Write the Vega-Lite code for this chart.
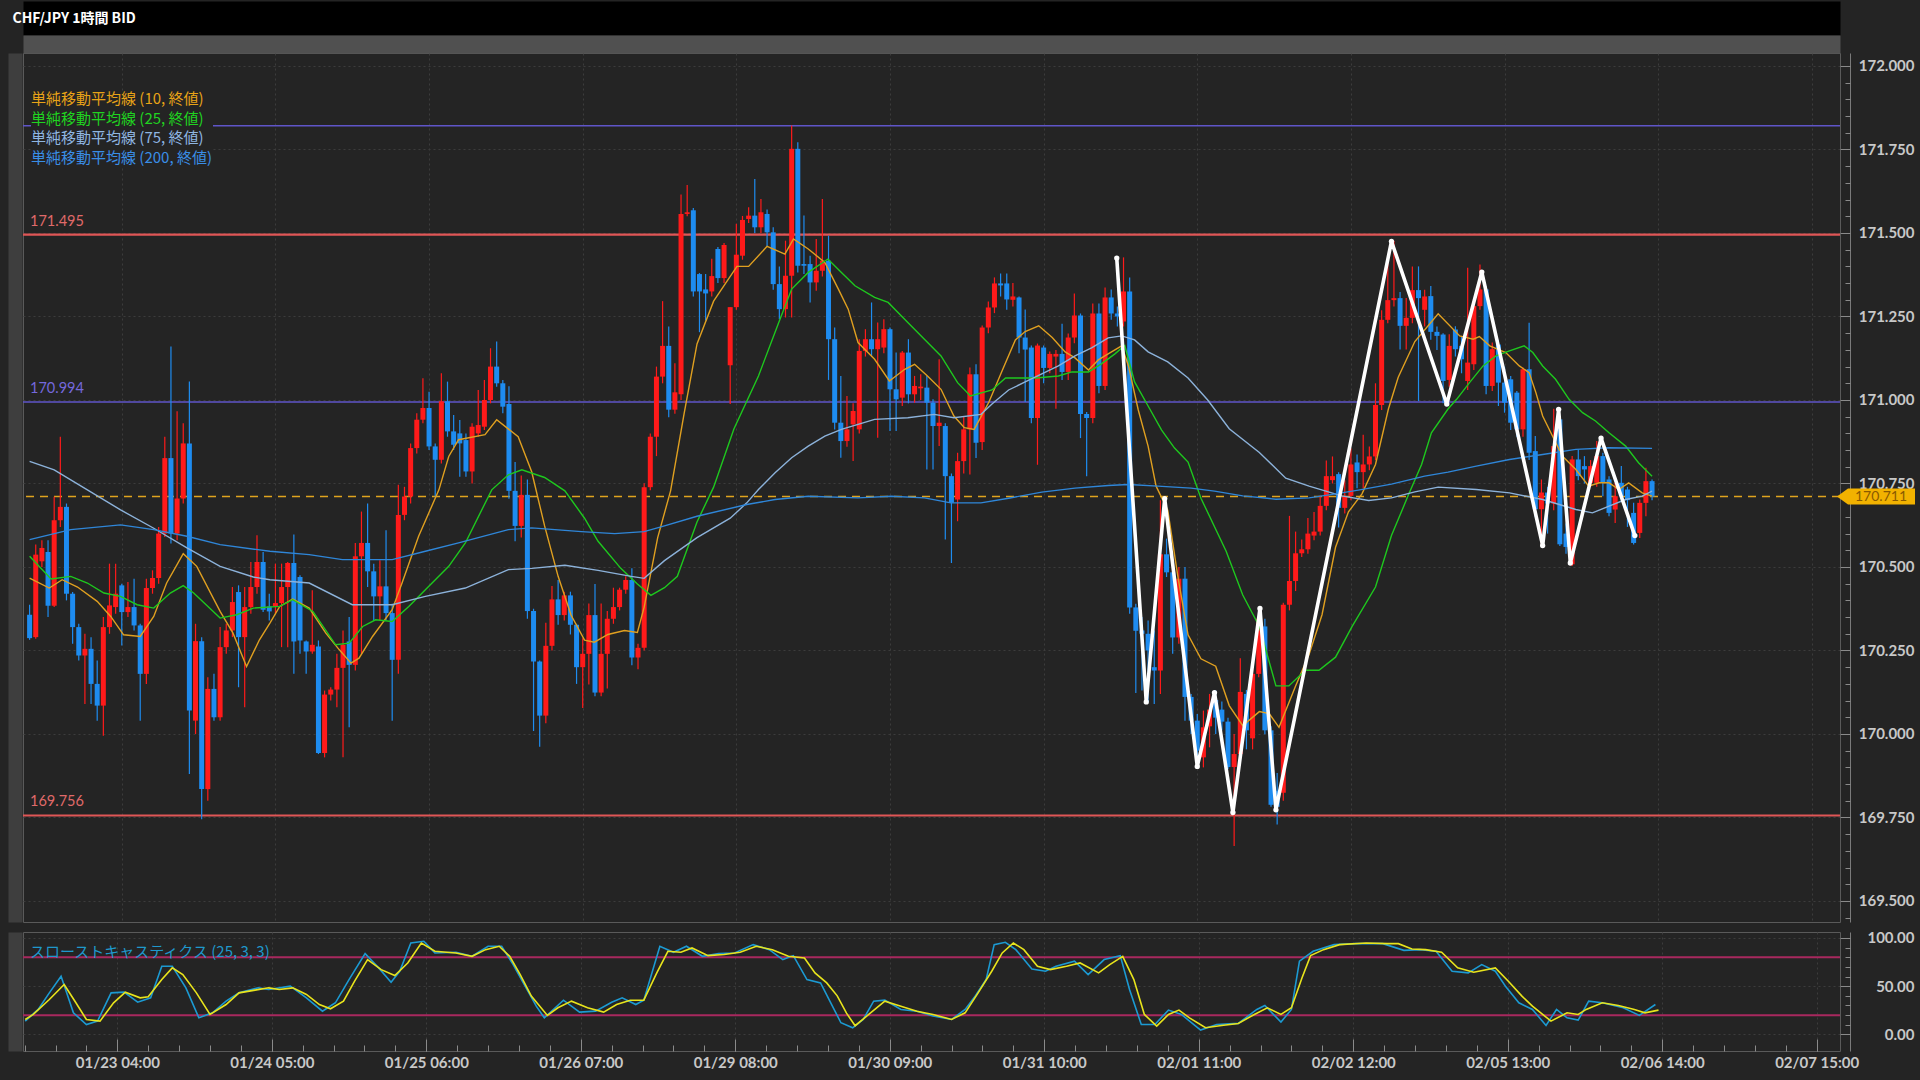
{
"$schema":"https://vega.github.io/schema/vega-lite/v6.json",
"background":"#242424",
"padding":0,
"title":{"text":"CHF/JPY 1時間 BID","anchor":"start","offset":-17,"baseline":"middle","dx":12,"dy":15,"font":"Noto Sans CJK JP","fontSize":14,"fontWeight":"bold","color":"#ffffff","zindex":1},
"config":{"view":{"stroke":null},"font":"Lato"},
"datasets":{
"candles":[
{"k":0,"o":170.357,"h":170.387,"l":170.282,"c":170.287},{"k":1,"o":170.29,"h":170.567,"l":170.285,"c":170.537},{"k":2,"o":170.517,"h":170.58,"l":170.5,"c":170.557},{"k":3,"o":170.545,"h":170.58,"l":170.35,"c":170.384},{"k":4,"o":170.384,"h":170.71,"l":170.38,"c":170.64},{"k":5,"o":170.64,"h":170.89,"l":170.62,"c":170.68},{"k":6,"o":170.68,"h":170.69,"l":170.4,"c":170.42},{"k":7,"o":170.42,"h":170.425,"l":170.27,"c":170.32},{"k":8,"o":170.32,"h":170.33,"l":170.22,"c":170.235},{"k":9,"o":170.235,"h":170.3,"l":170.09,"c":170.255},
{"k":10,"o":170.255,"h":170.29,"l":170.09,"c":170.15},{"k":11,"o":170.15,"h":170.22,"l":170.04,"c":170.085},{"k":12,"o":170.085,"h":170.35,"l":169.995,"c":170.32},{"k":13,"o":170.32,"h":170.51,"l":170.3,"c":170.385},{"k":14,"o":170.38,"h":170.51,"l":170.36,"c":170.42},{"k":15,"o":170.445,"h":170.45,"l":170.265,"c":170.365},{"k":16,"o":170.365,"h":170.455,"l":170.35,"c":170.38},{"k":17,"o":170.38,"h":170.465,"l":170.31,"c":170.325},{"k":18,"o":170.325,"h":170.33,"l":170.04,"c":170.18},{"k":19,"o":170.18,"h":170.465,"l":170.15,"c":170.437},
{"k":20,"o":170.437,"h":170.49,"l":170.42,"c":170.467},{"k":21,"o":170.467,"h":170.62,"l":170.45,"c":170.6},{"k":22,"o":170.6,"h":170.89,"l":170.59,"c":170.826},{"k":23,"o":170.826,"h":171.16,"l":170.57,"c":170.6},{"k":24,"o":170.6,"h":170.966,"l":170.58,"c":170.705},{"k":25,"o":170.705,"h":170.93,"l":170.69,"c":170.87},{"k":26,"o":170.87,"h":171.055,"l":169.88,"c":170.07},{"k":27,"o":170.04,"h":170.33,"l":170.0,"c":170.278},{"k":28,"o":170.278,"h":170.29,"l":169.745,"c":169.835},{"k":29,"o":169.835,"h":170.17,"l":169.8,"c":170.135},
{"k":30,"o":170.135,"h":170.18,"l":170.04,"c":170.05},{"k":31,"o":170.05,"h":170.32,"l":170.04,"c":170.26},{"k":32,"o":170.26,"h":170.33,"l":170.24,"c":170.31},{"k":33,"o":170.31,"h":170.44,"l":170.29,"c":170.395},{"k":34,"o":170.425,"h":170.445,"l":170.14,"c":170.29},{"k":35,"o":170.29,"h":170.44,"l":170.08,"c":170.38},{"k":36,"o":170.38,"h":170.515,"l":170.36,"c":170.44},{"k":37,"o":170.44,"h":170.595,"l":170.42,"c":170.515},{"k":38,"o":170.515,"h":170.545,"l":170.365,"c":170.372},{"k":39,"o":170.382,"h":170.42,"l":170.34,"c":170.367},
{"k":40,"o":170.382,"h":170.51,"l":170.36,"c":170.392},{"k":41,"o":170.392,"h":170.51,"l":170.26,"c":170.44},{"k":42,"o":170.44,"h":170.515,"l":170.26,"c":170.512},{"k":43,"o":170.512,"h":170.597,"l":170.18,"c":170.277},{"k":44,"o":170.47,"h":170.475,"l":170.24,"c":170.28},{"k":45,"o":170.277,"h":170.28,"l":170.18,"c":170.247},{"k":46,"o":170.247,"h":170.43,"l":170.24,"c":170.267},{"k":47,"o":170.262,"h":170.28,"l":169.94,"c":169.943},{"k":48,"o":169.943,"h":170.13,"l":169.93,"c":170.118},{"k":49,"o":170.118,"h":170.14,"l":170.1,"c":170.133},
{"k":50,"o":170.133,"h":170.24,"l":170.08,"c":170.198},{"k":51,"o":170.198,"h":170.31,"l":169.93,"c":170.267},{"k":52,"o":170.277,"h":170.35,"l":170.02,"c":170.207},{"k":53,"o":170.207,"h":170.572,"l":170.19,"c":170.532},{"k":54,"o":170.532,"h":170.666,"l":170.24,"c":170.572},{"k":55,"o":170.572,"h":170.69,"l":170.44,"c":170.487},{"k":56,"o":170.487,"h":170.51,"l":170.34,"c":170.412},{"k":57,"o":170.412,"h":170.52,"l":170.34,"c":170.442},{"k":58,"o":170.442,"h":170.61,"l":170.34,"c":170.362},{"k":59,"o":170.362,"h":170.39,"l":170.04,"c":170.222},
{"k":60,"o":170.222,"h":170.746,"l":170.18,"c":170.656},{"k":61,"o":170.656,"h":170.74,"l":170.64,"c":170.711},{"k":62,"o":170.711,"h":170.87,"l":170.69,"c":170.856},{"k":63,"o":170.856,"h":170.96,"l":170.84,"c":170.941},{"k":64,"o":170.941,"h":171.065,"l":170.93,"c":170.976},{"k":65,"o":170.976,"h":171.025,"l":170.85,"c":170.861},{"k":66,"o":170.861,"h":170.87,"l":170.71,"c":170.821},{"k":67,"o":170.821,"h":171.08,"l":170.81,"c":170.996},{"k":68,"o":170.996,"h":171.055,"l":170.89,"c":170.906},{"k":69,"o":170.906,"h":170.955,"l":170.85,"c":170.866},
{"k":70,"o":170.9,"h":170.94,"l":170.77,"c":170.87},{"k":71,"o":170.88,"h":170.9,"l":170.77,"c":170.786},{"k":72,"o":170.786,"h":170.93,"l":170.75,"c":170.92},{"k":73,"o":170.9,"h":171.03,"l":170.89,"c":170.925},{"k":74,"o":170.92,"h":171.06,"l":170.91,"c":171.0},{"k":75,"o":171.0,"h":171.155,"l":170.99,"c":171.1},{"k":76,"o":171.1,"h":171.175,"l":171.04,"c":171.05},{"k":77,"o":171.05,"h":171.06,"l":170.96,"c":170.98},{"k":78,"o":170.988,"h":171.041,"l":170.704,"c":170.728},{"k":79,"o":170.728,"h":170.814,"l":170.577,"c":170.623},
{"k":80,"o":170.623,"h":170.774,"l":170.588,"c":170.716},{"k":81,"o":170.716,"h":170.762,"l":170.345,"c":170.368},{"k":82,"o":170.368,"h":170.375,"l":170.009,"c":170.217},{"k":83,"o":170.217,"h":170.22,"l":169.962,"c":170.055},{"k":84,"o":170.055,"h":170.333,"l":170.032,"c":170.264},{"k":85,"o":170.264,"h":170.443,"l":170.25,"c":170.403},{"k":86,"o":170.403,"h":170.461,"l":170.327,"c":170.356},{"k":87,"o":170.356,"h":170.426,"l":170.34,"c":170.415},{"k":88,"o":170.415,"h":170.426,"l":170.298,"c":170.327},{"k":89,"o":170.327,"h":170.33,"l":170.15,"c":170.2},
{"k":90,"o":170.2,"h":170.287,"l":170.078,"c":170.24},{"k":91,"o":170.24,"h":170.391,"l":170.148,"c":170.356},{"k":92,"o":170.356,"h":170.449,"l":170.113,"c":170.124},{"k":93,"o":170.124,"h":170.391,"l":170.113,"c":170.24},{"k":94,"o":170.24,"h":170.368,"l":170.136,"c":170.345},{"k":95,"o":170.345,"h":170.438,"l":170.33,"c":170.38},{"k":96,"o":170.38,"h":170.438,"l":170.37,"c":170.432},{"k":97,"o":170.432,"h":170.472,"l":170.42,"c":170.461},{"k":98,"o":170.461,"h":170.496,"l":170.206,"c":170.229},{"k":99,"o":170.229,"h":170.27,"l":170.194,"c":170.258},
{"k":100,"o":170.258,"h":170.751,"l":170.25,"c":170.739},{"k":101,"o":170.739,"h":170.9,"l":170.73,"c":170.89},{"k":102,"o":170.89,"h":171.1,"l":170.832,"c":171.07},{"k":103,"o":171.07,"h":171.296,"l":171.05,"c":171.162},{"k":104,"o":171.162,"h":171.22,"l":170.948,"c":170.971},{"k":105,"o":170.971,"h":171.11,"l":170.959,"c":171.023},{"k":106,"o":171.017,"h":171.615,"l":171.0,"c":171.557},{"k":107,"o":171.557,"h":171.644,"l":171.55,"c":171.562},{"k":108,"o":171.568,"h":171.575,"l":171.31,"c":171.325},{"k":109,"o":171.377,"h":171.38,"l":171.203,"c":171.325},
{"k":110,"o":171.331,"h":171.377,"l":171.238,"c":171.319},{"k":111,"o":171.325,"h":171.423,"l":171.31,"c":171.371},{"k":112,"o":171.452,"h":171.458,"l":171.35,"c":171.365},{"k":113,"o":171.365,"h":171.47,"l":171.35,"c":171.464},{"k":114,"o":171.104,"h":171.278,"l":170.988,"c":171.278},{"k":115,"o":171.278,"h":171.528,"l":171.27,"c":171.435},{"k":116,"o":171.432,"h":171.551,"l":171.42,"c":171.539},{"k":117,"o":171.542,"h":171.577,"l":171.53,"c":171.552},{"k":118,"o":171.552,"h":171.662,"l":171.5,"c":171.517},{"k":119,"o":171.517,"h":171.602,"l":171.5,"c":171.562},
{"k":120,"o":171.557,"h":171.57,"l":171.46,"c":171.502},{"k":121,"o":171.502,"h":171.517,"l":171.33,"c":171.347},{"k":122,"o":171.347,"h":171.4,"l":171.242,"c":171.272},{"k":123,"o":171.272,"h":171.477,"l":171.247,"c":171.372},{"k":124,"o":171.372,"h":171.822,"l":171.247,"c":171.752},{"k":125,"o":171.752,"h":171.772,"l":171.382,"c":171.402},{"k":126,"o":171.407,"h":171.552,"l":171.377,"c":171.402},{"k":127,"o":171.407,"h":171.432,"l":171.292,"c":171.352},{"k":128,"o":171.352,"h":171.482,"l":171.327,"c":171.387},{"k":129,"o":171.387,"h":171.602,"l":171.37,"c":171.417},
{"k":130,"o":171.417,"h":171.492,"l":171.06,"c":171.182},{"k":131,"o":171.182,"h":171.217,"l":170.912,"c":170.932},{"k":132,"o":170.932,"h":171.072,"l":170.827,"c":170.877},{"k":133,"o":170.877,"h":171.012,"l":170.86,"c":170.912},{"k":134,"o":170.927,"h":170.99,"l":170.817,"c":170.967},{"k":135,"o":170.912,"h":171.182,"l":170.9,"c":171.147},{"k":136,"o":171.147,"h":171.212,"l":171.13,"c":171.182},{"k":137,"o":171.182,"h":171.292,"l":171.13,"c":171.152},{"k":138,"o":171.152,"h":171.232,"l":170.887,"c":171.182},{"k":139,"o":171.157,"h":171.242,"l":171.14,"c":171.212},
{"k":140,"o":171.212,"h":171.217,"l":170.907,"c":171.032},{"k":141,"o":171.032,"h":171.142,"l":170.907,"c":171.002},{"k":142,"o":171.007,"h":171.147,"l":170.982,"c":171.142},{"k":143,"o":171.142,"h":171.182,"l":170.99,"c":171.017},{"k":144,"o":171.017,"h":171.072,"l":170.992,"c":171.042},{"k":145,"o":171.035,"h":171.077,"l":171.0,"c":171.04},{"k":146,"o":171.037,"h":171.072,"l":170.792,"c":170.992},{"k":147,"o":170.992,"h":171.002,"l":170.792,"c":170.922},{"k":148,"o":170.922,"h":171.122,"l":170.862,"c":170.932},{"k":149,"o":170.922,"h":170.93,"l":170.582,"c":170.772},
{"k":150,"o":170.772,"h":170.78,"l":170.512,"c":170.692},{"k":151,"o":170.702,"h":170.842,"l":170.637,"c":170.817},{"k":152,"o":170.817,"h":170.95,"l":170.78,"c":170.912},{"k":153,"o":170.912,"h":171.097,"l":170.777,"c":171.077},{"k":154,"o":171.077,"h":171.107,"l":170.826,"c":170.872},{"k":155,"o":170.874,"h":171.223,"l":170.85,"c":171.217},{"k":156,"o":171.217,"h":171.295,"l":171.2,"c":171.277},{"k":157,"o":171.277,"h":171.367,"l":171.26,"c":171.349},{"k":158,"o":171.349,"h":171.379,"l":171.31,"c":171.343},{"k":159,"o":171.349,"h":171.379,"l":171.27,"c":171.301},
{"k":160,"o":171.3,"h":171.35,"l":171.28,"c":171.31},{"k":161,"o":171.307,"h":171.31,"l":171.14,"c":171.187},{"k":162,"o":171.187,"h":171.271,"l":170.994,"c":171.151},{"k":163,"o":171.157,"h":171.163,"l":170.93,"c":170.946},{"k":164,"o":170.946,"h":171.169,"l":170.806,"c":171.163},{"k":165,"o":171.157,"h":171.163,"l":171.05,"c":171.096},{"k":166,"o":171.096,"h":171.145,"l":171.08,"c":171.138},{"k":167,"o":171.13,"h":171.15,"l":170.974,"c":171.138},{"k":168,"o":171.138,"h":171.228,"l":171.06,"c":171.084},{"k":169,"o":171.084,"h":171.199,"l":171.06,"c":171.187},
{"k":170,"o":171.187,"h":171.319,"l":171.17,"c":171.253},{"k":171,"o":171.253,"h":171.259,"l":170.886,"c":170.958},{"k":172,"o":170.958,"h":170.964,"l":170.772,"c":170.946},{"k":173,"o":170.946,"h":171.289,"l":170.93,"c":171.259},{"k":174,"o":171.259,"h":171.289,"l":171.02,"c":171.042},{"k":175,"o":171.042,"h":171.337,"l":171.03,"c":171.307},{"k":176,"o":171.307,"h":171.331,"l":171.24,"c":171.259},{"k":177,"o":171.259,"h":171.28,"l":171.22,"c":171.25},{"k":178,"o":171.235,"h":171.427,"l":171.22,"c":171.325},{"k":179,"o":171.325,"h":171.367,"l":170.36,"c":170.379},
{"k":180,"o":170.379,"h":170.39,"l":170.123,"c":170.309},{"k":181,"o":170.31,"h":170.35,"l":170.13,"c":170.3},{"k":182,"o":170.3,"h":170.34,"l":170.095,"c":170.25},{"k":183,"o":170.2,"h":170.31,"l":170.09,"c":170.19},{"k":184,"o":170.19,"h":170.7,"l":170.12,"c":170.538},{"k":185,"o":170.538,"h":170.585,"l":170.47,"c":170.484},{"k":186,"o":170.484,"h":170.5,"l":170.24,"c":170.289},{"k":187,"o":170.289,"h":170.5,"l":170.27,"c":170.465},{"k":188,"o":170.465,"h":170.5,"l":170.04,"c":170.111},{"k":189,"o":170.111,"h":170.12,"l":170.0,"c":170.04},
{"k":190,"o":170.04,"h":170.06,"l":169.9,"c":169.95},{"k":191,"o":169.93,"h":170.07,"l":169.9,"c":170.02},{"k":192,"o":170.023,"h":170.12,"l":169.96,"c":170.073},{"k":193,"o":170.102,"h":170.13,"l":170.0,"c":170.049},{"k":194,"o":170.073,"h":170.097,"l":170.011,"c":170.037},{"k":195,"o":170.037,"h":170.049,"l":169.895,"c":169.901},{"k":196,"o":169.901,"h":170.0,"l":169.665,"c":169.94},{"k":197,"o":169.94,"h":170.227,"l":169.931,"c":170.126},{"k":198,"o":170.12,"h":170.132,"l":169.954,"c":170.011},{"k":199,"o":169.987,"h":170.203,"l":169.954,"c":170.18},
{"k":200,"o":170.18,"h":170.376,"l":170.17,"c":170.345},{"k":201,"o":170.322,"h":170.345,"l":169.999,"c":170.011},{"k":202,"o":170.011,"h":170.023,"l":169.782,"c":169.788},{"k":203,"o":169.83,"h":169.883,"l":169.729,"c":169.782},{"k":204,"o":169.824,"h":170.393,"l":169.8,"c":170.387},{"k":205,"o":170.387,"h":170.653,"l":170.37,"c":170.458},{"k":206,"o":170.458,"h":170.606,"l":170.428,"c":170.541},{"k":207,"o":170.541,"h":170.582,"l":170.53,"c":170.553},{"k":208,"o":170.553,"h":170.647,"l":170.54,"c":170.6},{"k":209,"o":170.594,"h":170.665,"l":170.58,"c":170.606},
{"k":210,"o":170.606,"h":170.713,"l":170.594,"c":170.683},{"k":211,"o":170.683,"h":170.819,"l":170.67,"c":170.772},{"k":212,"o":170.76,"h":170.831,"l":170.75,"c":170.772},{"k":213,"o":170.778,"h":170.784,"l":170.618,"c":170.677},{"k":214,"o":170.677,"h":170.76,"l":170.66,"c":170.713},{"k":215,"o":170.713,"h":170.855,"l":170.7,"c":170.807},{"k":216,"o":170.813,"h":170.837,"l":170.736,"c":170.784},{"k":217,"o":170.784,"h":170.896,"l":170.736,"c":170.807},{"k":218,"o":170.807,"h":170.861,"l":170.79,"c":170.831},{"k":219,"o":170.831,"h":171.05,"l":170.82,"c":170.985},
{"k":220,"o":170.985,"h":171.269,"l":170.97,"c":171.24},{"k":221,"o":171.24,"h":171.435,"l":171.23,"c":171.299},{"k":222,"o":171.299,"h":171.477,"l":171.28,"c":171.305},{"k":223,"o":171.305,"h":171.323,"l":171.151,"c":171.222},{"k":224,"o":171.222,"h":171.305,"l":171.151,"c":171.246},{"k":225,"o":171.246,"h":171.4,"l":171.23,"c":171.329},{"k":226,"o":171.329,"h":171.4,"l":170.997,"c":171.305},{"k":227,"o":171.27,"h":171.33,"l":171.22,"c":171.31},{"k":228,"o":171.311,"h":171.341,"l":171.18,"c":171.204},{"k":229,"o":171.204,"h":171.22,"l":171.15,"c":171.192},
{"k":230,"o":171.196,"h":171.2,"l":170.99,"c":171.057},{"k":231,"o":171.06,"h":171.197,"l":171.04,"c":171.162},{"k":232,"o":171.211,"h":171.221,"l":171.13,"c":171.152},{"k":233,"o":171.162,"h":171.19,"l":171.08,"c":171.122},{"k":234,"o":171.057,"h":171.396,"l":171.03,"c":171.112},{"k":235,"o":171.107,"h":171.301,"l":171.09,"c":171.281},{"k":236,"o":171.281,"h":171.406,"l":171.27,"c":171.331},{"k":237,"o":171.331,"h":171.341,"l":171.017,"c":171.042},{"k":238,"o":171.042,"h":171.172,"l":171.027,"c":171.152},{"k":239,"o":171.166,"h":171.18,"l":170.982,"c":171.052},
{"k":240,"o":171.052,"h":171.1,"l":170.962,"c":170.992},{"k":241,"o":171.062,"h":171.072,"l":170.91,"c":170.932},{"k":242,"o":171.022,"h":171.027,"l":170.89,"c":170.912},{"k":243,"o":170.912,"h":171.097,"l":170.89,"c":171.092},{"k":244,"o":171.092,"h":171.231,"l":170.82,"c":170.842},{"k":245,"o":170.847,"h":170.892,"l":170.65,"c":170.673},{"k":246,"o":170.673,"h":170.762,"l":170.565,"c":170.723},{"k":247,"o":170.723,"h":170.74,"l":170.6,"c":170.69},{"k":248,"o":170.69,"h":170.974,"l":170.67,"c":170.862},{"k":249,"o":170.942,"h":170.95,"l":170.563,"c":170.568},
{"k":250,"o":170.6,"h":170.63,"l":170.54,"c":170.56},{"k":251,"o":170.508,"h":170.832,"l":170.503,"c":170.822},{"k":252,"o":170.822,"h":170.852,"l":170.76,"c":170.772},{"k":253,"o":170.802,"h":170.832,"l":170.75,"c":170.792},{"k":254,"o":170.752,"h":170.82,"l":170.74,"c":170.802},{"k":255,"o":170.752,"h":170.877,"l":170.74,"c":170.832},{"k":256,"o":170.832,"h":170.842,"l":170.712,"c":170.752},{"k":257,"o":170.762,"h":170.772,"l":170.652,"c":170.662},{"k":258,"o":170.672,"h":170.752,"l":170.632,"c":170.712},{"k":259,"o":170.752,"h":170.802,"l":170.7,"c":170.712},
{"k":260,"o":170.732,"h":170.74,"l":170.62,"c":170.7},{"k":261,"o":170.662,"h":170.692,"l":170.567,"c":170.572},{"k":262,"o":170.602,"h":170.702,"l":170.587,"c":170.692},{"k":263,"o":170.692,"h":170.797,"l":170.652,"c":170.757},{"k":264,"o":170.757,"h":170.762,"l":170.7,"c":170.711}
],
"ma":[
{"s":"10","k":0,"v":170.467},{"s":"10","k":3.2,"v":170.437},{"s":"10","k":5.3,"v":170.462},{"s":"10","k":7.8,"v":170.44},{"s":"10","k":11,"v":170.397},{"s":"10","k":13.2,"v":170.352},{"s":"10","k":15.3,"v":170.297},{"s":"10","k":18,"v":170.292},{"s":"10","k":20.2,"v":170.352},{"s":"10","k":22.3,"v":170.452},{"s":"10","k":25,"v":170.54},{"s":"10","k":27.2,"v":170.502},{"s":"10","k":31,"v":170.367},{"s":"10","k":33.1,"v":170.302},{"s":"10","k":35.3,"v":170.202},{"s":"10","k":37.4,"v":170.282},{"s":"10","k":39.1,"v":170.332},{"s":"10","k":40.7,"v":170.382},{"s":"10","k":42.8,"v":170.404},{"s":"10","k":45.5,"v":170.377},{"s":"10","k":48.2,"v":170.302},{"s":"10","k":50.4,"v":170.252},{"s":"10","k":52.3,"v":170.212},{"s":"10","k":53.6,"v":170.227},{"s":"10","k":55.8,"v":170.292},{"s":"10","k":59,"v":170.372},{"s":"10","k":60.6,"v":170.452},{"s":"10","k":63.3,"v":170.592},{"s":"10","k":66.6,"v":170.731},{"s":"10","k":68.2,"v":170.831},{"s":"10","k":69.8,"v":170.881},{"s":"10","k":74.1,"v":170.896},{"s":"10","k":76,"v":170.941},{"s":"10","k":79.5,"v":170.89},{"s":"10","k":81.7,"v":170.785},{"s":"10","k":83.8,"v":170.623},{"s":"10","k":86,"v":170.472},{"s":"10","k":88.1,"v":170.356},{"s":"10","k":90.3,"v":170.281},{"s":"10","k":91.9,"v":170.275},{"s":"10","k":94.1,"v":170.298},{"s":"10","k":96.8,"v":170.31},{"s":"10","k":98.9,"v":170.304},{"s":"10","k":100,"v":170.38},{"s":"10","k":102.2,"v":170.588},{"s":"10","k":104.3,"v":170.728},{"s":"10","k":106.5,"v":170.959},{"s":"10","k":108.6,"v":171.168},{"s":"10","k":111.3,"v":171.296},{"s":"10","k":115.1,"v":171.4},{"s":"10","k":117,"v":171.4},{"s":"10","k":120,"v":171.46},{"s":"10","k":122.9,"v":171.437},{"s":"10","k":124.3,"v":171.482},{"s":"10","k":126.7,"v":171.452},{"s":"10","k":129.4,"v":171.412},{"s":"10","k":131.6,"v":171.332},{"s":"10","k":133.2,"v":171.272},{"s":"10","k":134.8,"v":171.172},{"s":"10","k":137.5,"v":171.122},{"s":"10","k":139.9,"v":171.057},{"s":"10","k":142.4,"v":171.092},{"s":"10","k":144,"v":171.107},{"s":"10","k":146.1,"v":171.072},{"s":"10","k":148.3,"v":171.032},{"s":"10","k":150.4,"v":170.952},{"s":"10","k":152.1,"v":170.917},{"s":"10","k":153.7,"v":170.912},{"s":"10","k":156.1,"v":170.994},{"s":"10","k":158.3,"v":171.09},{"s":"10","k":160.4,"v":171.18},{"s":"10","k":162,"v":171.205},{"s":"10","k":164.2,"v":171.222},{"s":"10","k":166.4,"v":171.187},{"s":"10","k":168.5,"v":171.144},{"s":"10","k":170.1,"v":171.126},{"s":"10","k":172.3,"v":171.09},{"s":"10","k":173.9,"v":171.12},{"s":"10","k":175.5,"v":171.138},{"s":"10","k":177.7,"v":171.162},{"s":"10","k":178.8,"v":171.102},{"s":"10","k":180.4,"v":170.97},{"s":"10","k":182,"v":170.862},{"s":"10","k":183.3,"v":170.742},{"s":"10","k":185.2,"v":170.67},{"s":"10","k":186.9,"v":170.465},{"s":"10","k":188.5,"v":170.297},{"s":"10","k":190.6,"v":170.225},{"s":"10","k":193,"v":170.203},{"s":"10","k":195.2,"v":170.085},{"s":"10","k":197.4,"v":170.025},{"s":"10","k":200.1,"v":170.067},{"s":"10","k":201.7,"v":170.061},{"s":"10","k":203.3,"v":170.02},{"s":"10","k":206,"v":170.144},{"s":"10","k":208.2,"v":170.239},{"s":"10","k":210.3,"v":170.357},{"s":"10","k":212.5,"v":170.559},{"s":"10","k":214.6,"v":170.665},{"s":"10","k":216.8,"v":170.719},{"s":"10","k":219,"v":170.807},{"s":"10","k":221.1,"v":170.973},{"s":"10","k":222.7,"v":171.068},{"s":"10","k":225.4,"v":171.175},{"s":"10","k":229.2,"v":171.258},{"s":"10","k":232.7,"v":171.192},{"s":"10","k":234.9,"v":171.182},{"s":"10","k":235.9,"v":171.19},{"s":"10","k":237.6,"v":171.162},{"s":"10","k":240.2,"v":171.142},{"s":"10","k":242.4,"v":171.102},{"s":"10","k":244,"v":171.082},{"s":"10","k":245.1,"v":171.022},{"s":"10","k":246.2,"v":170.952},{"s":"10","k":247.8,"v":170.892},{"s":"10","k":249.4,"v":170.832},{"s":"10","k":251.6,"v":170.792},{"s":"10","k":253.7,"v":170.742},{"s":"10","k":255.4,"v":170.752},{"s":"10","k":257,"v":170.752},{"s":"10","k":258.6,"v":170.732},{"s":"10","k":260.2,"v":170.752},{"s":"10","k":262.4,"v":170.722},{"s":"10","k":264,"v":170.712},
{"s":"25","k":0,"v":170.532},{"s":"25","k":3.5,"v":170.464},{"s":"25","k":6.7,"v":170.472},{"s":"25","k":9.4,"v":170.452},{"s":"25","k":12.1,"v":170.422},{"s":"25","k":14.8,"v":170.412},{"s":"25","k":17.5,"v":170.387},{"s":"25","k":20.2,"v":170.377},{"s":"25","k":22.9,"v":170.422},{"s":"25","k":25,"v":170.444},{"s":"25","k":26.7,"v":170.422},{"s":"25","k":31,"v":170.347},{"s":"25","k":33.7,"v":170.357},{"s":"25","k":36.4,"v":170.377},{"s":"25","k":40.7,"v":170.382},{"s":"25","k":42.8,"v":170.402},{"s":"25","k":46.1,"v":170.367},{"s":"25","k":49.8,"v":170.267},{"s":"25","k":52,"v":170.272},{"s":"25","k":54.2,"v":170.322},{"s":"25","k":56.3,"v":170.342},{"s":"25","k":59,"v":170.337},{"s":"25","k":61.7,"v":170.382},{"s":"25","k":64.4,"v":170.432},{"s":"25","k":68.2,"v":170.502},{"s":"25","k":70.9,"v":170.572},{"s":"25","k":75.2,"v":170.731},{"s":"25","k":77.9,"v":170.776},{"s":"25","k":80.1,"v":170.791},{"s":"25","k":83.8,"v":170.768},{"s":"25","k":87.1,"v":170.728},{"s":"25","k":90.3,"v":170.646},{"s":"25","k":92.5,"v":170.577},{"s":"25","k":96.2,"v":170.496},{"s":"25","k":98.9,"v":170.449},{"s":"25","k":101.1,"v":170.415},{"s":"25","k":103.3,"v":170.438},{"s":"25","k":105.4,"v":170.472},{"s":"25","k":108.6,"v":170.635},{"s":"25","k":111.3,"v":170.739},{"s":"25","k":114.6,"v":170.913},{"s":"25","k":118.6,"v":171.072},{"s":"25","k":121.9,"v":171.232},{"s":"25","k":124,"v":171.332},{"s":"25","k":126.7,"v":171.382},{"s":"25","k":129.9,"v":171.422},{"s":"25","k":132.1,"v":171.382},{"s":"25","k":134.3,"v":171.342},{"s":"25","k":137.5,"v":171.307},{"s":"25","k":139.7,"v":171.292},{"s":"25","k":142.9,"v":171.232},{"s":"25","k":145.6,"v":171.182},{"s":"25","k":148.3,"v":171.132},{"s":"25","k":151,"v":171.052},{"s":"25","k":153.1,"v":171.012},{"s":"25","k":156.6,"v":171.03},{"s":"25","k":158.8,"v":171.066},{"s":"25","k":163.7,"v":171.066},{"s":"25","k":167.4,"v":171.072},{"s":"25","k":169.6,"v":171.084},{"s":"25","k":172.3,"v":171.084},{"s":"25","k":174.4,"v":171.108},{"s":"25","k":176.6,"v":171.138},{"s":"25","k":178.2,"v":171.163},{"s":"25","k":179.8,"v":171.054},{"s":"25","k":182,"v":170.982},{"s":"25","k":184.2,"v":170.91},{"s":"25","k":186.3,"v":170.856},{"s":"25","k":188.5,"v":170.814},{"s":"25","k":190.6,"v":170.706},{"s":"25","k":194.7,"v":170.547},{"s":"25","k":197.4,"v":170.416},{"s":"25","k":200.1,"v":170.322},{"s":"25","k":202.8,"v":170.144},{"s":"25","k":204.9,"v":170.144},{"s":"25","k":207.6,"v":170.191},{"s":"25","k":209.8,"v":170.191},{"s":"25","k":212.5,"v":170.23},{"s":"25","k":215.2,"v":170.322},{"s":"25","k":219,"v":170.44},{"s":"25","k":221.6,"v":170.594},{"s":"25","k":224.3,"v":170.713},{"s":"25","k":226.5,"v":170.807},{"s":"25","k":228.1,"v":170.902},{"s":"25","k":230.8,"v":170.973},{"s":"25","k":232.2,"v":171.002},{"s":"25","k":234.3,"v":171.052},{"s":"25","k":236.5,"v":171.102},{"s":"25","k":238.6,"v":171.132},{"s":"25","k":240.8,"v":171.147},{"s":"25","k":243.2,"v":171.162},{"s":"25","k":244.6,"v":171.142},{"s":"25","k":246.2,"v":171.102},{"s":"25","k":248.3,"v":171.062},{"s":"25","k":250.5,"v":171.002},{"s":"25","k":252.7,"v":170.962},{"s":"25","k":254.8,"v":170.937},{"s":"25","k":257,"v":170.902},{"s":"25","k":259.7,"v":170.862},{"s":"25","k":261.8,"v":170.812},{"s":"25","k":264,"v":170.772},
{"s":"75","k":0,"v":170.816},{"s":"75","k":4,"v":170.791},{"s":"75","k":9.4,"v":170.731},{"s":"75","k":14.8,"v":170.671},{"s":"75","k":20.2,"v":170.616},{"s":"75","k":25.6,"v":170.557},{"s":"75","k":31,"v":170.502},{"s":"75","k":36.4,"v":170.47},{"s":"75","k":39.1,"v":170.462},{"s":"75","k":45.5,"v":170.452},{"s":"75","k":52.5,"v":170.387},{"s":"75","k":59,"v":170.387},{"s":"75","k":64.4,"v":170.412},{"s":"75","k":70.9,"v":170.437},{"s":"75","k":77.9,"v":170.492},{"s":"75","k":81.7,"v":170.496},{"s":"75","k":87.1,"v":170.505},{"s":"75","k":92.5,"v":170.49},{"s":"75","k":97.9,"v":170.472},{"s":"75","k":100,"v":170.466},{"s":"75","k":103.3,"v":170.519},{"s":"75","k":108.6,"v":170.588},{"s":"75","k":114,"v":170.646},{"s":"75","k":116.7,"v":170.692},{"s":"75","k":118.6,"v":170.732},{"s":"75","k":121.3,"v":170.782},{"s":"75","k":124,"v":170.827},{"s":"75","k":126.7,"v":170.862},{"s":"75","k":129.4,"v":170.892},{"s":"75","k":132.1,"v":170.912},{"s":"75","k":134.8,"v":170.927},{"s":"75","k":137.5,"v":170.942},{"s":"75","k":142.9,"v":170.947},{"s":"75","k":147.2,"v":170.957},{"s":"75","k":150.4,"v":170.947},{"s":"75","k":154.8,"v":170.957},{"s":"75","k":156.6,"v":170.988},{"s":"75","k":159.3,"v":171.03},{"s":"75","k":162,"v":171.054},{"s":"75","k":164.7,"v":171.078},{"s":"75","k":167.4,"v":171.102},{"s":"75","k":170.1,"v":171.132},{"s":"75","k":172.8,"v":171.156},{"s":"75","k":175.5,"v":171.186},{"s":"75","k":177.7,"v":171.192},{"s":"75","k":179.8,"v":171.18},{"s":"75","k":182,"v":171.144},{"s":"75","k":185.2,"v":171.114},{"s":"75","k":188.5,"v":171.066},{"s":"75","k":191.7,"v":171.0},{"s":"75","k":195.2,"v":170.914},{"s":"75","k":200.1,"v":170.843},{"s":"75","k":204.4,"v":170.766},{"s":"75","k":208.2,"v":170.742},{"s":"75","k":213.5,"v":170.713},{"s":"75","k":217.9,"v":170.699},{"s":"75","k":221.6,"v":170.707},{"s":"75","k":225.4,"v":170.725},{"s":"75","k":229.2,"v":170.739},{"s":"75","k":235.4,"v":170.732},{"s":"75","k":240.8,"v":170.722},{"s":"75","k":246.2,"v":170.702},{"s":"75","k":251.6,"v":170.672},{"s":"75","k":254.3,"v":170.662},{"s":"75","k":257,"v":170.682},{"s":"75","k":259.7,"v":170.702},{"s":"75","k":262.4,"v":170.712},{"s":"75","k":264,"v":170.727},
{"s":"200","k":0,"v":170.582},{"s":"200","k":6.7,"v":170.612},{"s":"200","k":14.8,"v":170.626},{"s":"200","k":20.2,"v":170.612},{"s":"200","k":25.6,"v":170.592},{"s":"200","k":31,"v":170.567},{"s":"200","k":39.1,"v":170.547},{"s":"200","k":45.5,"v":170.537},{"s":"200","k":50.9,"v":170.522},{"s":"200","k":59,"v":170.522},{"s":"200","k":64.4,"v":170.547},{"s":"200","k":69.8,"v":170.572},{"s":"200","k":77.9,"v":170.612},{"s":"200","k":81.7,"v":170.617},{"s":"200","k":89.8,"v":170.606},{"s":"200","k":95.2,"v":170.6},{"s":"200","k":100,"v":170.606},{"s":"200","k":103.3,"v":170.623},{"s":"200","k":108.6,"v":170.652},{"s":"200","k":116.7,"v":170.687},{"s":"200","k":121.3,"v":170.702},{"s":"200","k":126.7,"v":170.712},{"s":"200","k":134.8,"v":170.707},{"s":"200","k":140.2,"v":170.712},{"s":"200","k":145.6,"v":170.707},{"s":"200","k":149.9,"v":170.692},{"s":"200","k":154.8,"v":170.692},{"s":"200","k":159.3,"v":170.706},{"s":"200","k":164.7,"v":170.724},{"s":"200","k":170.1,"v":170.736},{"s":"200","k":175.5,"v":170.744},{"s":"200","k":178.8,"v":170.747},{"s":"200","k":183.6,"v":170.742},{"s":"200","k":189,"v":170.736},{"s":"200","k":192.8,"v":170.727},{"s":"200","k":197.4,"v":170.713},{"s":"200","k":202.8,"v":170.703},{"s":"200","k":208.2,"v":170.707},{"s":"200","k":212.5,"v":170.719},{"s":"200","k":216.2,"v":170.73},{"s":"200","k":221.6,"v":170.748},{"s":"200","k":227,"v":170.772},{"s":"200","k":230.8,"v":170.784},{"s":"200","k":235.4,"v":170.802},{"s":"200","k":240.8,"v":170.822},{"s":"200","k":246.2,"v":170.837},{"s":"200","k":251.6,"v":170.852},{"s":"200","k":257,"v":170.857},{"s":"200","k":264,"v":170.855}
],
"stoch":[
{"s":"D","k":0.1,"v":15.5},{"s":"D","k":1.4,"v":20.7},{"s":"D","k":4,"v":36.2},{"s":"D","k":6.4,"v":51.7},{"s":"D","k":8.3,"v":32.8},{"s":"D","k":10,"v":15.5},{"s":"D","k":12.2,"v":13.8},{"s":"D","k":14.4,"v":32.8},{"s":"D","k":16.3,"v":43.8},{"s":"D","k":18.7,"v":37.9},{"s":"D","k":20,"v":39},{"s":"D","k":22.2,"v":56.9},{"s":"D","k":23.9,"v":69},{"s":"D","k":25.6,"v":62.1},{"s":"D","k":27.8,"v":43.1},{"s":"D","k":30,"v":20.7},{"s":"D","k":32.6,"v":31},{"s":"D","k":34.7,"v":43.1},{"s":"D","k":37.3,"v":45.9},{"s":"D","k":39.5,"v":48.3},{"s":"D","k":41.2,"v":46.6},{"s":"D","k":43.4,"v":48.3},{"s":"D","k":45.6,"v":41.4},{"s":"D","k":47.7,"v":31},{"s":"D","k":49.5,"v":26.6},{"s":"D","k":51.6,"v":34.5},{"s":"D","k":53.4,"v":55.2},{"s":"D","k":55.5,"v":77.6},{"s":"D","k":57.7,"v":67.2},{"s":"D","k":59.9,"v":61},{"s":"D","k":62,"v":74.1},{"s":"D","k":64.2,"v":94.8},{"s":"D","k":66.4,"v":86.2},{"s":"D","k":69.8,"v":84.5},{"s":"D","k":72.4,"v":81},{"s":"D","k":74.6,"v":87.9},{"s":"D","k":76.8,"v":91.4},{"s":"D","k":78.5,"v":81},{"s":"D","k":80.2,"v":62.1},{"s":"D","k":82,"v":39.7},{"s":"D","k":84.6,"v":19.7},{"s":"D","k":86.3,"v":27.6},{"s":"D","k":88.5,"v":34.5},{"s":"D","k":91.1,"v":27.6},{"s":"D","k":93.7,"v":23.1},{"s":"D","k":95.8,"v":31},{"s":"D","k":98,"v":35.5},{"s":"D","k":100.2,"v":35.5},{"s":"D","k":102.3,"v":63.8},{"s":"D","k":104.1,"v":86.2},{"s":"D","k":106.2,"v":85.2},{"s":"D","k":108,"v":89.7},{"s":"D","k":110.6,"v":81.7},{"s":"D","k":113.2,"v":82.8},{"s":"D","k":115.8,"v":85.2},{"s":"D","k":118.4,"v":91.4},{"s":"D","k":121,"v":87.9},{"s":"D","k":123.6,"v":81},{"s":"D","k":126.2,"v":79.3},{"s":"D","k":127.9,"v":63.8},{"s":"D","k":129.8,"v":53.4},{"s":"D","k":131.5,"v":40},{"s":"D","k":133,"v":22},{"s":"D","k":134.4,"v":9},{"s":"D","k":136.6,"v":20.7},{"s":"D","k":139.2,"v":34.5},{"s":"D","k":141.8,"v":29.3},{"s":"D","k":144.4,"v":24.1},{"s":"D","k":147,"v":20.7},{"s":"D","k":150,"v":15.5},{"s":"D","k":152.2,"v":22.4},{"s":"D","k":154.3,"v":43.1},{"s":"D","k":156.5,"v":65.5},{"s":"D","k":158.2,"v":84.5},{"s":"D","k":160,"v":94.8},{"s":"D","k":161.7,"v":87.9},{"s":"D","k":163.9,"v":70.7},{"s":"D","k":166,"v":67.2},{"s":"D","k":168.6,"v":70.7},{"s":"D","k":170.8,"v":74.1},{"s":"D","k":173.8,"v":63.8},{"s":"D","k":175.6,"v":72.4},{"s":"D","k":177.7,"v":81},{"s":"D","k":179.5,"v":56.9},{"s":"D","k":181.2,"v":20.7},{"s":"D","k":183.2,"v":8.6},{"s":"D","k":185.1,"v":20.7},{"s":"D","k":186.8,"v":25.2},{"s":"D","k":188.5,"v":17.2},{"s":"D","k":191.1,"v":6.9},{"s":"D","k":193.7,"v":9.3},{"s":"D","k":196.4,"v":11.4},{"s":"D","k":199,"v":20.7},{"s":"D","k":201.1,"v":27.6},{"s":"D","k":203.3,"v":20.7},{"s":"D","k":205,"v":27.6},{"s":"D","k":206.7,"v":58.6},{"s":"D","k":208.1,"v":81.7},{"s":"D","k":210.2,"v":87.9},{"s":"D","k":212.8,"v":93.1},{"s":"D","k":217.1,"v":94.8},{"s":"D","k":220.6,"v":94.1},{"s":"D","k":222.3,"v":94.1},{"s":"D","k":224.5,"v":88.6},{"s":"D","k":226.7,"v":87.9},{"s":"D","k":229.3,"v":85.2},{"s":"D","k":231.9,"v":69},{"s":"D","k":234.5,"v":64.5},{"s":"D","k":238,"v":69},{"s":"D","k":240.1,"v":55.2},{"s":"D","k":242.3,"v":39.7},{"s":"D","k":244,"v":29.3},{"s":"D","k":247,"v":13.8},{"s":"D","k":249.6,"v":22.4},{"s":"D","k":251.4,"v":20.7},{"s":"D","k":252.7,"v":25.9},{"s":"D","k":255.3,"v":32.8},{"s":"D","k":257.9,"v":30},{"s":"D","k":260.5,"v":25.9},{"s":"D","k":262.2,"v":22.4},{"s":"D","k":264.4,"v":25.2},
{"s":"K","k":0.1,"v":13.8},{"s":"K","k":2.2,"v":25.9},{"s":"K","k":4,"v":43.1},{"s":"K","k":5.9,"v":60.3},{"s":"K","k":7.9,"v":22.4},{"s":"K","k":10,"v":10.3},{"s":"K","k":11.8,"v":13.8},{"s":"K","k":14,"v":43.1},{"s":"K","k":16.1,"v":43.8},{"s":"K","k":18.3,"v":33.4},{"s":"K","k":20.4,"v":37.9},{"s":"K","k":22.2,"v":70.7},{"s":"K","k":23.9,"v":70.7},{"s":"K","k":26.1,"v":48.3},{"s":"K","k":28.2,"v":17.2},{"s":"K","k":30.4,"v":22.4},{"s":"K","k":32.6,"v":34.5},{"s":"K","k":34.7,"v":43.1},{"s":"K","k":37.8,"v":48.3},{"s":"K","k":39.5,"v":46.6},{"s":"K","k":43,"v":50},{"s":"K","k":45.6,"v":37.9},{"s":"K","k":48.2,"v":24.1},{"s":"K","k":50.3,"v":32.8},{"s":"K","k":52.5,"v":56.9},{"s":"K","k":55.1,"v":83.8},{"s":"K","k":57.3,"v":69},{"s":"K","k":59.3,"v":54.1},{"s":"K","k":60.7,"v":65.5},{"s":"K","k":62.5,"v":94.8},{"s":"K","k":64.6,"v":96.6},{"s":"K","k":66.4,"v":84.5},{"s":"K","k":69.8,"v":85.2},{"s":"K","k":72.4,"v":81},{"s":"K","k":75,"v":91.4},{"s":"K","k":77.2,"v":91.4},{"s":"K","k":78.9,"v":74.1},{"s":"K","k":80.7,"v":53.4},{"s":"K","k":82.8,"v":29.3},{"s":"K","k":84.1,"v":17.2},{"s":"K","k":87.2,"v":35.5},{"s":"K","k":89.8,"v":23.1},{"s":"K","k":92.4,"v":24.1},{"s":"K","k":95,"v":33.4},{"s":"K","k":96.7,"v":37.9},{"s":"K","k":98.9,"v":31},{"s":"K","k":100.2,"v":35.5},{"s":"K","k":102.8,"v":91.4},{"s":"K","k":105,"v":85.2},{"s":"K","k":107.1,"v":91.4},{"s":"K","k":109.7,"v":81},{"s":"K","k":112.3,"v":83.8},{"s":"K","k":114.9,"v":84.5},{"s":"K","k":117.9,"v":93.1},{"s":"K","k":120.5,"v":87.9},{"s":"K","k":122.7,"v":77.6},{"s":"K","k":124.4,"v":81.7},{"s":"K","k":126.6,"v":56.9},{"s":"K","k":128.8,"v":53.4},{"s":"K","k":132.1,"v":12.1},{"s":"K","k":134,"v":6.9},{"s":"K","k":135.7,"v":15.5},{"s":"K","k":137.4,"v":34.5},{"s":"K","k":139.2,"v":35.5},{"s":"K","k":141.8,"v":25.9},{"s":"K","k":144.4,"v":24.1},{"s":"K","k":147,"v":19},{"s":"K","k":150,"v":15.5},{"s":"K","k":152.2,"v":25.9},{"s":"K","k":153.9,"v":40.3},{"s":"K","k":155.6,"v":56.9},{"s":"K","k":156.9,"v":93.1},{"s":"K","k":158.7,"v":95.5},{"s":"K","k":160.4,"v":87.9},{"s":"K","k":163,"v":67.9},{"s":"K","k":165.2,"v":65.5},{"s":"K","k":166.9,"v":70.7},{"s":"K","k":169.9,"v":75.9},{"s":"K","k":172.1,"v":62.1},{"s":"K","k":174.7,"v":77.6},{"s":"K","k":177.3,"v":81.7},{"s":"K","k":178.8,"v":46.6},{"s":"K","k":180.7,"v":10.3},{"s":"K","k":182.9,"v":10.3},{"s":"K","k":185.1,"v":25.2},{"s":"K","k":187.2,"v":20.7},{"s":"K","k":190.3,"v":4.5},{"s":"K","k":192.9,"v":10.3},{"s":"K","k":196.4,"v":11.4},{"s":"K","k":199.4,"v":25.9},{"s":"K","k":200.7,"v":30},{"s":"K","k":203.3,"v":12.8},{"s":"K","k":205,"v":25.9},{"s":"K","k":206.3,"v":75.9},{"s":"K","k":208.5,"v":86.2},{"s":"K","k":211.9,"v":93.1},{"s":"K","k":215.4,"v":94.1},{"s":"K","k":219.8,"v":94.1},{"s":"K","k":223.2,"v":87.2},{"s":"K","k":225.8,"v":87.9},{"s":"K","k":228.4,"v":86.2},{"s":"K","k":231,"v":65.5},{"s":"K","k":233.6,"v":63.8},{"s":"K","k":235.8,"v":72.4},{"s":"K","k":238,"v":65.5},{"s":"K","k":239.7,"v":49.3},{"s":"K","k":241.8,"v":32.8},{"s":"K","k":244,"v":25.9},{"s":"K","k":246.2,"v":9.3},{"s":"K","k":247.9,"v":25.9},{"s":"K","k":249.6,"v":17.2},{"s":"K","k":251.4,"v":14.8},{"s":"K","k":253.1,"v":34.5},{"s":"K","k":255.3,"v":32.8},{"s":"K","k":258.7,"v":27.6},{"s":"K","k":261.3,"v":19.7},{"s":"K","k":263.9,"v":31}
],
"zigzag":[
{"k":176.9,"v":171.425},{"k":181.7,"v":170.096},{"k":184.7,"v":170.705},{"k":190.0,"v":169.903},{"k":192.8,"v":170.124},{"k":195.8,"v":169.765},{"k":200.2,"v":170.376},{"k":202.8,"v":169.773},{"k":221.6,"v":171.475},{"k":230.6,"v":170.988},{"k":236.3,"v":171.383},{"k":246.2,"v":170.564},{"k":248.8,"v":170.972},{"k":250.7,"v":170.512},{"k":255.7,"v":170.886},{"k":261.2,"v":170.594}
]
},
"spacing":0,
"vconcat":[
{
"width":1817,"height":869,
"view":{"stroke":"#5a5a5a"},
"resolve":{"axis":{"x":"independent","y":"independent"}},
"layer":[
{"data":{"values":[{"p":171.495},{"p":169.756}]},
"mark":{"type":"rule","color":"#e05656","strokeWidth":2.2},
"encoding":{"y":{"field":"p","type":"quantitative","scale":{"domain":[169.4371,172.0389],"nice":false,"zero":false},"axis":null}}},
{"data":{"values":[{"p":171.821},{"p":170.994}]},
"mark":{"type":"rule","color":"#5f55c8","strokeWidth":1.6},
"encoding":{"y":{"field":"p","type":"quantitative","axis":null}}},
{"data":{"values":[{"last":170.711}]},
"mark":{"type":"rule","color":"#e0a41e","strokeWidth":1.6,"strokeDash":[8,6]},
"encoding":{"y":{"field":"last","type":"quantitative","axis":null}}},
{"data":{"name":"candles"},
"mark":{"type":"rule","strokeWidth":1.2,"clip":true},
"encoding":{
"x":{"field":"k","type":"quantitative","scale":{"domain":[-0.26,293.77],"nice":false,"zero":false},
"axis":{"orient":"bottom","title":null,"values":[15,40,65,90,115,140,165,190,215,240,265,290],"labels":false,"ticks":false,"domain":false,"grid":true,"gridColor":"#3c3c3c","gridDash":[2,3],"minExtent":0,"maxExtent":0}},
"y":{"field":"l","type":"quantitative",
"axis":{"orient":"right","title":null,"values":[169.5,169.75,170,170.25,170.5,170.75,171,171.25,171.5,171.75,172],"format":".3f","grid":true,"gridColor":"#3c3c3c","gridDash":[2,3],"offset":10,"tickSize":-10,"tickColor":"#8a8a8a","domain":true,"domainColor":"#7a7a7a","labelPadding":74,"labelAlign":"right","labelBaseline":"middle","labelFont":"Lato","labelFontSize":15,"labelFontWeight":"bold","labelColor":"#c8c8c8","minExtent":71,"maxExtent":71}},
"y2":{"field":"h"},
"color":{"condition":{"test":"datum.c >= datum.o","value":"#ff1a1a"},"value":"#1e8cf0"}}},
{"data":{"name":"candles"},
"mark":{"type":"bar","width":5,"clip":true},
"encoding":{
"x":{"field":"k","type":"quantitative","axis":null},
"y":{"field":"o","type":"quantitative","axis":null},
"y2":{"field":"c"},
"color":{"condition":{"test":"datum.c >= datum.o","value":"#ff1a1a"},"value":"#1e8cf0"}}},
{"data":{"values":[{"p":171.495},{"p":169.756}]},
"mark":{"type":"text","align":"left","baseline":"middle","dx":2,"dy":-13,"font":"Lato","fontSize":14.5,"color":"#e06a6a"},
"encoding":{"x":{"datum":-0.26,"type":"quantitative","axis":null},"y":{"field":"p","type":"quantitative","axis":null},"text":{"field":"p","format":".3f"}}},
{"data":{"values":[{"p":171.821},{"p":170.994}]},
"mark":{"type":"text","align":"left","baseline":"middle","dx":2,"dy":-13,"font":"Lato","fontSize":14.5,"color":"#7468dc"},
"encoding":{"x":{"datum":-0.26,"type":"quantitative","axis":null},"y":{"field":"p","type":"quantitative","axis":null},"text":{"field":"p","format":".3f"}}},
{"data":{"name":"ma"},
"mark":{"type":"line","strokeWidth":1.4,"clip":true},
"encoding":{
"x":{"field":"k","type":"quantitative","axis":null},
"y":{"field":"v","type":"quantitative","axis":null},
"color":{"field":"s","type":"nominal","scale":{"domain":["10","25","75","200"],"range":["#e0a020","#1ec81e","#8cb2da","#2f86d8"]},
"legend":{"orient":"none","legendX":8,"legendY":38.5,"title":null,"direction":"vertical","labelExpr":"'単純移動平均線 (' + datum.label + ', 終値)'","labelFont":"Noto Sans CJK JP","labelFontSize":15,"labelLimit":400,"labelOffset":-15,"symbolSize":0,"symbolStrokeWidth":0,"symbolOpacity":0,"symbolType":"stroke","rowPadding":3.6,"padding":0,"fillColor":"#242424",
"encode":{"labels":{"update":{"fill":[{"test":"datum.value === '10'","value":"#e8a317"},{"test":"datum.value === '25'","value":"#20d420"},{"test":"datum.value === '75'","value":"#8fb6e2"},{"value":"#3a8ee6"}]}}}}}}},
{"data":{"name":"zigzag"},
"mark":{"type":"line","color":"#ffffff","strokeWidth":3.6,"strokeJoin":"round","point":{"filled":true,"color":"#ffffff","size":28}},
"encoding":{
"x":{"field":"k","type":"quantitative","axis":null},
"y":{"field":"v","type":"quantitative","axis":null}}},
{"data":{"values":[{"last":170.711}]},
"mark":{"type":"point","shape":"M 0.2 0 L 1.3 -0.8 L 8 -0.8 L 8 0.8 L 1.3 0.8 Z","size":400,"filled":true,"color":"#f2b200","opacity":1},
"encoding":{"x":{"datum":293.77,"type":"quantitative","axis":null},"y":{"field":"last","type":"quantitative","axis":null}}},
{"data":{"values":[{"last":170.711}]},
"mark":{"type":"text","align":"center","baseline":"middle","dx":46,"font":"Lato","fontSize":14,"color":"#8a5a00"},
"encoding":{"x":{"datum":293.77,"type":"quantitative","axis":null},"y":{"field":"last","type":"quantitative","axis":null},"text":{"field":"last","format":".3f"}}},
{"data":{"values":[{"p":170}]},
"mark":{"type":"point","opacity":0},
"encoding":{"y":{"field":"p","type":"quantitative",
"axis":{"orient":"right","title":null,"values":[169.45,169.5,169.55,169.6,169.65,169.7,169.75,169.8,169.85,169.9,169.95,170,170.05,170.1,170.15,170.2,170.25,170.3,170.35,170.4,170.45,170.5,170.55,170.6,170.65,170.7,170.75,170.8,170.85,170.9,170.95,171,171.05,171.1,171.15,171.2,171.25,171.3,171.35,171.4,171.45,171.5,171.55,171.6,171.65,171.7,171.75,171.8,171.85,171.9,171.95,172],"labels":false,"grid":false,"domain":false,"offset":10,"tickSize":-5,"tickColor":"#8a8a8a"}}}},
{"data":{"values":[{"p":170}]},
"mark":{"type":"point","opacity":0},
"encoding":{"y":{"field":"p","type":"quantitative",
"axis":{"orient":"left","title":null,"labels":false,"ticks":false,"grid":false,"domain":true,"domainColor":"#3e3e3e","domainWidth":14,"offset":8,"minExtent":14,"maxExtent":14}}}},
{"data":{"values":[{"k":0,"p":170}]},
"mark":{"type":"point","opacity":0},
"encoding":{
"x":{"field":"k","type":"quantitative",
"axis":{"orient":"top","title":null,"labels":false,"ticks":false,"grid":false,"domain":true,"domainColor":"#000000","domainWidth":34,"offset":35,"minExtent":17,"maxExtent":17}},
"y":{"field":"p","type":"quantitative","axis":null}}},
{"data":{"values":[{"k":0,"p":170}]},
"mark":{"type":"point","opacity":0},
"encoding":{
"x":{"field":"k","type":"quantitative",
"axis":{"orient":"top","title":null,"labels":false,"ticks":false,"grid":false,"domain":true,"domainColor":"#505050","domainWidth":18,"offset":9,"minExtent":9,"maxExtent":9}},
"y":{"field":"p","type":"quantitative","axis":null}}}
]
},
{
"width":1817,"height":119,
"view":{"stroke":"#5a5a5a"},
"resolve":{"axis":{"x":"independent","y":"independent"}},
"layer":[
{"data":{"values":[{"lvl":80},{"lvl":20}]},
"mark":{"type":"rule","color":"#a8285e","strokeWidth":2},
"encoding":{"y":{"field":"lvl","type":"quantitative","scale":{"domain":[-17.2,106.2],"nice":false,"zero":false},"axis":null}}},
{"data":{"name":"stoch"},
"transform":[{"filter":"datum.s === 'K'"}],
"mark":{"type":"line","color":"#1c9ad2","strokeWidth":1.6,"clip":true},
"encoding":{
"x":{"field":"k","type":"quantitative","scale":{"domain":[-0.26,293.77],"nice":false,"zero":false},
"axis":{"orient":"bottom","title":null,"values":[15,40,65,90,115,140,165,190,215,240,265,290],"labelExpr":"['01/23 04:00','01/24 05:00','01/25 06:00','01/26 07:00','01/29 08:00','01/30 09:00','01/31 10:00','02/01 11:00','02/02 12:00','02/05 13:00','02/06 14:00','02/07 15:00'][round((datum.value - 15) / 25)]","grid":true,"gridColor":"#3c3c3c","gridDash":[2,3],"ticks":true,"tickSize":-12,"tickColor":"#8a8a8a","domain":false,"labelPadding":16,"labelFont":"Lato","labelFontSize":15,"labelFontWeight":"bold","labelColor":"#c8c8c8","labelFlush":false,"labelOverlap":false,"minExtent":32,"maxExtent":32}},
"y":{"field":"v","type":"quantitative",
"axis":{"orient":"right","title":null,"values":[0,50,100],"format":".2f","grid":true,"gridColor":"#3c3c3c","gridDash":[2,3],"offset":10,"tickSize":-10,"tickColor":"#8a8a8a","domain":true,"domainColor":"#7a7a7a","labelPadding":74,"labelAlign":"right","labelBaseline":"middle","labelFont":"Lato","labelFontSize":15,"labelFontWeight":"bold","labelColor":"#c8c8c8","minExtent":71,"maxExtent":71}}}},
{"data":{"name":"stoch"},
"transform":[{"filter":"datum.s === 'D'"}],
"mark":{"type":"line","color":"#e8e41c","strokeWidth":1.6,"clip":true},
"encoding":{"x":{"field":"k","type":"quantitative","axis":null},"y":{"field":"v","type":"quantitative","axis":null}}},
{"data":{"values":[{"name":"スローストキャスティクス (25, 3, 3)"}]},
"mark":{"type":"text","align":"left","baseline":"middle","dx":7,"font":"Noto Sans CJK JP","fontSize":15,"color":"#1f98cc"},
"encoding":{"x":{"datum":-0.26,"type":"quantitative","axis":null},"y":{"datum":85.5,"type":"quantitative","axis":null},"text":{"field":"name"}}},
{"data":{"values":[{"k":0,"v":0}]},
"mark":{"type":"point","opacity":0},
"encoding":{
"x":{"field":"k","type":"quantitative",
"axis":{"orient":"bottom","title":null,"values":[0,5,10,15,20,25,30,35,40,45,50,55,60,65,70,75,80,85,90,95,100,105,110,115,120,125,130,135,140,145,150,155,160,165,170,175,180,185,190,195,200,205,210,215,220,225,230,235,240,245,250,255,260,265,270,275,280,285,290],"labels":false,"grid":false,"domain":false,"tickSize":-6,"tickColor":"#8a8a8a"}},
"y":{"field":"v","type":"quantitative",
"axis":{"orient":"right","title":null,"values":[0,10,20,30,40,50,60,70,80,90,100],"labels":false,"grid":false,"domain":false,"offset":10,"tickSize":-5,"tickColor":"#8a8a8a"}}}},
{"data":{"values":[{"k":0,"v":50}]},
"mark":{"type":"point","opacity":0},
"encoding":{
"x":{"field":"k","type":"quantitative","axis":{"orient":"top","title":null,"labels":false,"ticks":false,"grid":false,"domain":false,"minExtent":8,"maxExtent":8}},
"y":{"field":"v","type":"quantitative",
"axis":{"orient":"left","title":null,"labels":false,"ticks":false,"grid":false,"domain":true,"domainColor":"#3e3e3e","domainWidth":14,"offset":8,"minExtent":14,"maxExtent":14}}}}
]
}
]
}
